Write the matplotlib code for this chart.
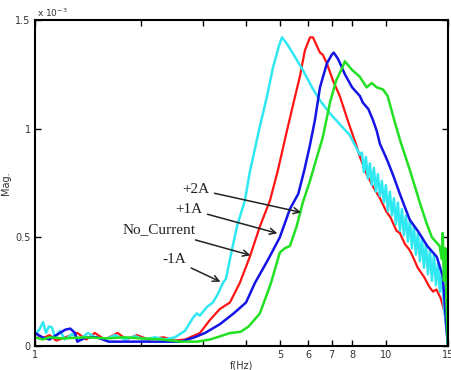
import matplotlib.pyplot as plt
from matplotlib.ticker import NullLocator

# frequency (Hz) / magnitude (x 1e-3)
f_m1 = [1.0, 1.033, 1.054, 1.075, 1.096, 1.118, 1.14, 1.178, 1.217, 1.275, 1.343, 1.416,
        1.482, 1.582, 1.689, 1.804, 1.926, 2.057, 2.196, 2.345, 2.504, 2.673, 2.82, 2.89,
        2.949, 3.09, 3.21, 3.32, 3.43, 3.50, 3.591, 3.76, 3.961, 4.09, 4.34, 4.58, 4.76,
        4.95, 5.05, 5.22, 5.50, 5.79, 6.15, 6.48, 6.92, 7.38, 7.88, 8.418,
        8.529, 8.642, 8.756, 8.872, 8.988, 9.107, 9.228, 9.350, 9.473, 9.597, 9.724,
        9.853, 9.983, 10.115, 10.249, 10.384, 10.521, 10.660, 10.801, 10.944, 11.089,
        11.235, 11.384, 11.534, 11.687, 11.841, 11.998, 12.156, 12.317, 12.479, 12.644,
        12.811, 12.981, 13.152, 13.326, 13.502, 13.680, 13.861, 14.044, 14.229, 14.417,
        14.608, 14.801, 15.0]
v_m1 = [0.05, 0.08, 0.11, 0.06, 0.09, 0.085, 0.04, 0.07, 0.03, 0.055, 0.03, 0.06,
        0.04, 0.03, 0.05, 0.03, 0.045, 0.03, 0.04, 0.03, 0.04, 0.07, 0.13, 0.15,
        0.14, 0.18, 0.20, 0.24, 0.29, 0.31, 0.40, 0.55, 0.67, 0.80, 0.99, 1.15, 1.28,
        1.38, 1.42, 1.39, 1.33, 1.27, 1.19, 1.13, 1.07, 1.02, 0.97, 0.88,
        0.89, 0.80, 0.87, 0.77, 0.84, 0.74, 0.82, 0.71, 0.79, 0.69, 0.76,
        0.66, 0.74, 0.62, 0.71, 0.60, 0.68, 0.56, 0.66, 0.53, 0.63,
        0.51, 0.60, 0.48, 0.58, 0.45, 0.55, 0.42, 0.52, 0.39, 0.50,
        0.36, 0.47, 0.33, 0.44, 0.30, 0.42, 0.28, 0.38, 0.25, 0.34,
        0.18, 0.10, 0.0]

f_nc = [1.0, 1.05, 1.10, 1.15, 1.22, 1.32, 1.40, 1.48, 1.58, 1.72, 1.82, 1.95, 2.10,
        2.32, 2.50, 2.68, 2.95, 3.15, 3.36, 3.59, 3.83, 4.09, 4.37, 4.67, 4.92, 5.20,
        5.45, 5.68, 5.87, 6.07, 6.19, 6.35, 6.48, 6.60, 6.78, 7.06, 7.38, 7.73, 7.88,
        8.20, 8.42, 8.80, 9.20, 9.60, 10.0, 10.3, 10.7, 10.94, 11.3, 11.68, 12.0, 12.3,
        12.8, 13.3, 13.6, 13.9, 14.3, 14.7, 15.0]
v_nc = [0.06, 0.035, 0.05, 0.025, 0.04, 0.06, 0.03, 0.06, 0.03, 0.06, 0.03, 0.05, 0.03,
        0.04, 0.025, 0.03, 0.06, 0.12, 0.17, 0.20, 0.29, 0.41, 0.55, 0.67, 0.81, 0.98,
        1.12, 1.24, 1.36, 1.42, 1.42, 1.38, 1.35, 1.34, 1.30, 1.22, 1.15, 1.05, 1.01,
        0.93, 0.87, 0.79, 0.73, 0.68, 0.62, 0.59, 0.53, 0.52, 0.47, 0.44, 0.40, 0.36,
        0.32, 0.27, 0.25, 0.26, 0.22, 0.15, 0.0]

f_p1 = [1.0, 1.05, 1.10, 1.15, 1.22, 1.26, 1.30, 1.32, 1.40, 1.50, 1.62, 1.75, 2.0, 2.3,
        2.6, 2.85, 3.05, 3.36, 3.68, 3.99, 4.23, 4.62, 4.98, 5.32, 5.62, 5.85, 6.06,
        6.27, 6.48, 6.78, 7.0, 7.09, 7.30, 7.63, 8.0, 8.42, 8.58, 8.9, 9.17, 9.4, 9.6,
        9.85, 10.1, 10.5, 10.94, 11.3, 11.68, 12.3, 13.1, 13.94, 14.5, 14.8, 15.0]
v_p1 = [0.06, 0.04, 0.03, 0.05, 0.075, 0.08, 0.06, 0.02, 0.04, 0.04, 0.02, 0.02, 0.02, 0.02,
        0.02, 0.04, 0.06, 0.10, 0.15, 0.20, 0.29, 0.40, 0.50, 0.63, 0.70, 0.81, 0.92,
        1.04, 1.19, 1.30, 1.34, 1.35, 1.32, 1.25, 1.19, 1.15, 1.12, 1.09, 1.04, 0.99, 0.93,
        0.89, 0.85, 0.78, 0.70, 0.64, 0.58, 0.53, 0.46, 0.41, 0.32, 0.12, 0.0]

f_p2 = [1.0, 1.05, 1.10, 1.2, 1.4, 1.6, 1.8, 2.0, 2.3, 2.6, 2.9, 3.15, 3.3, 3.6, 3.85,
        4.06, 4.37, 4.7, 4.98, 5.15, 5.32, 5.56, 5.79, 6.07, 6.3, 6.6, 6.92, 7.2, 7.5,
        7.63, 8.0, 8.4, 8.8, 9.1, 9.4, 9.8, 10.1, 10.5, 10.94, 11.68, 12.47, 13.0, 13.5,
        14.2, 14.4, 14.5, 14.6, 14.75, 14.85, 15.0]
v_p2 = [0.04, 0.03, 0.04, 0.035, 0.04, 0.035, 0.04, 0.035, 0.03, 0.02, 0.02, 0.03, 0.04,
        0.06, 0.065, 0.09, 0.15, 0.29, 0.43, 0.45, 0.46, 0.55, 0.66, 0.76, 0.85, 0.96,
        1.12, 1.22, 1.28, 1.31, 1.27, 1.24, 1.19, 1.21, 1.19, 1.18, 1.15, 1.05, 0.95,
        0.81, 0.66, 0.57, 0.50, 0.46, 0.40, 0.52, 0.30, 0.45, 0.20, 0.0]

xticks = [1, 2, 3, 4, 5, 6, 7, 8, 10, 15]
xticklabels = ['1', '', '', '', '5', '6', '7', '8', '10', '15']
yticks = [0, 0.5, 1, 1.5]
yticklabels = ['0', '0.5', '1', '1.5']

fig = plt.figure(figsize=(4.52, 3.70), dpi=100)
ax = fig.add_axes([0.0774, 0.0649, 0.9137, 0.8811])

ax.plot(f_nc, v_nc, color='#FF1414', lw=1.6)
ax.plot(f_m1, v_m1, color='#30E8F2', lw=1.8)
ax.plot(f_p1, v_p1, color='#1414E6', lw=1.8)
ax.plot(f_p2, v_p2, color='#22E022', lw=1.8)

#labels with arrows
arr = dict(arrowstyle='->', color='#222222', lw=1.1)
tfont = dict(family='Liberation Serif', fontsize=11, color='#222222', ha='right', va='center')
ax.annotate('+2A', xy=(5.83, 0.612), xytext=(3.13, 0.722), arrowprops=arr, **tfont)
ax.annotate('+1A', xy=(4.985, 0.515), xytext=(2.99, 0.63), arrowprops=arr, **tfont)
ax.annotate('No_Current', xy=(4.18, 0.414), xytext=(2.874, 0.534), arrowprops=arr, **tfont)
ax.annotate('-1A', xy=(3.43, 0.29), xytext=(2.69, 0.396), arrowprops=arr, **tfont)

ax.set_xscale('log')
ax.set_xlim(1, 15)
ax.set_ylim(0, 1.5)
ax.set_xticks(xticks)
ax.set_xticklabels(xticklabels)
ax.xaxis.set_minor_locator(NullLocator())
ax.set_yticks(yticks)
ax.set_yticklabels(yticklabels)
ax.tick_params(direction='in', top=True, right=True, length=4, width=1,
               labelsize=7, labelcolor='#333333', pad=3)
for s in ax.spines.values():
    s.set_linewidth(1.5)

ax.text(0.005, 1.008, 'x 10$^{-3}$', transform=ax.transAxes, fontsize=6.5, color='#333333')
ax.set_xlabel('f(Hz)', fontsize=7, color='#333333', labelpad=0)
ax.set_ylabel('Mag.', fontsize=7, color='#333333', labelpad=3)

fig.savefig('out.png', dpi=100)
